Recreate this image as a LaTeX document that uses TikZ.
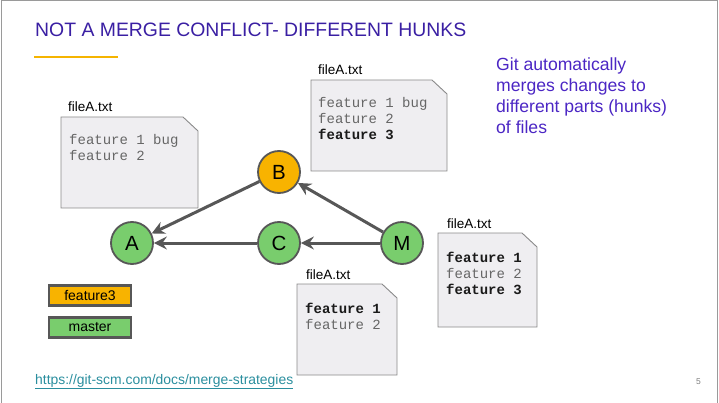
\documentclass[tikz,border=0pt]{standalone}
\usepackage{fontspec}
\setmainfont{Liberation Sans}
\setmonofont{Liberation Mono}
\usetikzlibrary{arrows.meta}

\definecolor{titleblue}{HTML}{3A1FA3}
\definecolor{textblue}{HTML}{4B26C4}
\definecolor{linkteal}{HTML}{2A8E9E}
\definecolor{accent}{HTML}{F5B400}
\definecolor{commitgreen}{HTML}{79CD6D}
\definecolor{commitorange}{HTML}{F8B300}
\definecolor{edgegray}{HTML}{575757}
\definecolor{filefill}{HTML}{EFEEF1}
\definecolor{fileborder}{HTML}{8A8A8A}
\definecolor{codegray}{HTML}{666666}
\definecolor{codedark}{HTML}{1A1A1A}
\definecolor{framegray}{HTML}{9A9A9A}

% a text file sheet with a cut top-right corner: left, top, right, bottom
\newcommand\filesheet[4]{%
  \draw[filebox] (#1,#2) -- ({#3-15},#2) -- (#3,{#2+14}) -- (#3,#4) -- (#1,#4) -- cycle;}

\begin{document}
\begin{tikzpicture}[x=1pt,y=-1pt,
  commit/.style={circle, draw=edgegray, line width=1.8pt, minimum size=42pt,
    inner sep=0pt, font=\fontsize{20.5}{20}\selectfont},
  parentarrow/.style={draw=edgegray, line width=3pt,
    -{Stealth[length=13pt,width=13pt,inset=4.5pt]}},
  filebox/.style={draw=fileborder, fill=filefill, line width=0.9pt},
  filelabel/.style={anchor=base west, inner sep=0pt, font=\fontsize{13.5}{16}\selectfont},
  codeline/.style={anchor=base west, inner sep=0pt,
    font=\ttfamily\fontsize{14}{16}\selectfont, text=codegray},
  boldline/.style={codeline, text=codedark, font=\ttfamily\bfseries\fontsize{14}{16}\selectfont},
  bodytext/.style={anchor=base west, inner sep=0pt, text=textblue,
    font=\fontsize{17.6}{21}\selectfont},
  branch/.style={draw=edgegray, line width=2.5pt, minimum width=82pt,
    minimum height=20pt, inner sep=0pt, font=\fontsize{14}{14}\selectfont}
]
\useasboundingbox (0,0) rectangle (719,403);

% slide frame
\draw[framegray, line width=1pt] (1.5,403) -- (1.5,1) -- (717.5,1) -- (717.5,403);

% title and accent rule
\node[anchor=base west, inner sep=0pt, text=titleblue,
  font=\fontsize{19.4}{20}\selectfont] (title) at (35,37)
  {NOT A MERGE CONFLICT- DIFFERENT HUNKS};
\draw[accent, line width=2pt] (34,57) -- (118,57);

% explanation
\node[bodytext] (t1) at (496,71) {Git automatically};
\node[bodytext] (t2) at (496,92) {merges changes to};
\node[bodytext] (t3) at (496,113) {different parts (hunks)};
\node[bodytext] (t4) at (496,134) {of files};

% file at A
\filesheet{61}{117}{198}{208}
\node[filelabel] (fa) at (68,112) {fileA.txt};
\node[codeline] (fa1) at (69,145) {feature 1 bug};
\node[codeline] (fa2) at (69,161) {feature 2};

% file at B
\filesheet{311}{80}{447}{171}
\node[filelabel] (fb) at (318,75) {fileA.txt};
\node[codeline] (fb1) at (318,108) {feature 1 bug};
\node[codeline] (fb2) at (318,124) {feature 2};
\node[boldline] (fb3) at (318,140) {feature 3};

% file at M
\filesheet{438}{233}{537}{327}
\node[filelabel] (fm) at (447,228) {fileA.txt};
\node[boldline] (fm1) at (446,262) {feature 1};
\node[codeline] (fm2) at (446,278) {feature 2};
\node[boldline] (fm3) at (446,294) {feature 3};

% file at C
\filesheet{297}{284}{397}{375}
\node[filelabel] (fc) at (306,279) {fileA.txt};
\node[boldline] (fc1) at (305,313) {feature 1};
\node[codeline] (fc2) at (305,329) {feature 2};

% commits
\node[commit, fill=commitgreen] (A) at (132,243) {A};
\node[commit, fill=commitorange] (B) at (279,172) {B};
\node[commit, fill=commitgreen] (C) at (279,243) {C};
\node[commit, fill=commitgreen] (M) at (402,243) {M};

\draw[parentarrow] (B) -- (A);
\draw[parentarrow] (C) -- (A);
\draw[parentarrow] (M) -- (C);
\draw[parentarrow] (M) -- (B);

% branch legend
\node[branch, fill=commitorange] (feat) at (90,295.5) {feature3};
\node[branch, fill=commitgreen] (mast) at (90,327.5) {master};

% reference link and page number
\node[anchor=base west, inner sep=0pt, text=linkteal,
  font=\fontsize{13.9}{14}\selectfont] (link) at (35,384)
  {\underline{https://git-scm.com/docs/merge-strategies}};
\node[anchor=base west, inner sep=0pt, text=gray,
  font=\fontsize{8.5}{9}\selectfont] (page) at (696,384) {5};
\end{tikzpicture}
\end{document}
